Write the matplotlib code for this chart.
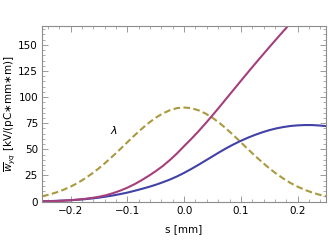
import numpy as np
import matplotlib
matplotlib.use("Agg")
import matplotlib.pyplot as plt
from matplotlib.ticker import MultipleLocator

# s grid [mm] and the three curves
s_mm = np.linspace(-0.25, 0.25, 41)
w_blue = [0.3, 0.4, 0.6, 0.9, 1.2, 1.7, 2.2, 2.9, 3.7, 4.7, 5.8, 7.1, 8.5, 10.2,
          12.0, 13.9, 16.0, 18.4, 21.0, 24.0, 27.4, 31.1, 35.0, 39.1, 43.2, 47.3,
          51.2, 54.8, 58.1, 61.1, 63.8, 66.2, 68.3, 70.0, 71.3, 72.3, 72.9, 73.2,
          73.2, 72.8, 72.2]
w_magenta = [0.2, 0.3, 0.5, 0.8, 1.2, 1.8, 2.5, 3.4, 4.5, 6.0, 8.0, 10.4, 13.2,
             16.5, 20.3, 24.5, 29.0, 34.0, 39.7, 46.0, 53.0, 59.8, 67.0, 74.6,
             82.5, 90.6, 98.9, 107.2, 115.5, 123.7, 131.8, 139.8, 147.7, 155.5,
             163.2, 170.8, 178.3, 185.7, 193.0, 200.2, 207.3]
lam = [5.0, 6.6, 8.7, 11.2, 14.2, 17.7, 21.9, 26.6, 31.8, 37.6, 43.7, 50.1, 56.7,
       63.2, 69.4, 75.1, 80.2, 84.3, 87.4, 89.4, 90.0, 89.4, 87.4, 84.3, 80.2,
       75.1, 69.4, 63.2, 56.7, 50.1, 43.7, 37.6, 31.8, 26.6, 21.9, 17.7, 14.2,
       11.2, 8.7, 6.6, 5.0]

c_blue = '#4141a8'
c_mag = '#a53f7c'
c_gold = '#aa9a3e'
frame = '#8c8c8c'

fig = plt.figure(figsize=(3.29, 2.48), dpi=100)
ax = fig.add_axes([0.128, 0.1875, 0.863, 0.7075])

ax.plot(s_mm, lam, color=c_gold, lw=1.5, ls=(0, (3.2, 1.6)))
ax.plot(s_mm, w_blue, color=c_blue, lw=1.5)
ax.plot(s_mm, w_magenta, color=c_mag, lw=1.5)
ax.text(-0.123, 68, r'$\lambda$', fontsize=8, ha='center', va='center')

ax.set_xlim(-0.25, 0.25)
ax.set_ylim(0, 168)
ax.xaxis.set_major_locator(MultipleLocator(0.1))
ax.xaxis.set_minor_locator(MultipleLocator(0.02))
ax.yaxis.set_major_locator(MultipleLocator(25))
ax.yaxis.set_minor_locator(MultipleLocator(5))
ax.set_xticks([-0.2, -0.1, 0.0, 0.1, 0.2])
ax.set_xticklabels(['\u22120.2', '\u22120.1', '0.0', '0.1', '0.2'])

for sp in ax.spines.values():
    sp.set_color(frame)
    sp.set_linewidth(0.8)
ax.tick_params(which='both', direction='in', top=True, right=True,
               color=frame, labelsize=7.5, pad=3)
ax.tick_params(which='major', length=4, width=0.6)
ax.tick_params(which='minor', length=2, width=0.5)
ax.tick_params(axis='x', labeltop=False)
ax.tick_params(axis='y', labelright=False)

ax.set_xlabel('s [mm]', fontsize=7.5, labelpad=6)
ax.set_ylabel(r'$\overline{w}_{yq}$ [kV/(pC$\ast$mm$\ast$m)]', fontsize=7.5, labelpad=1)

fig.savefig('out.png', dpi=100)
